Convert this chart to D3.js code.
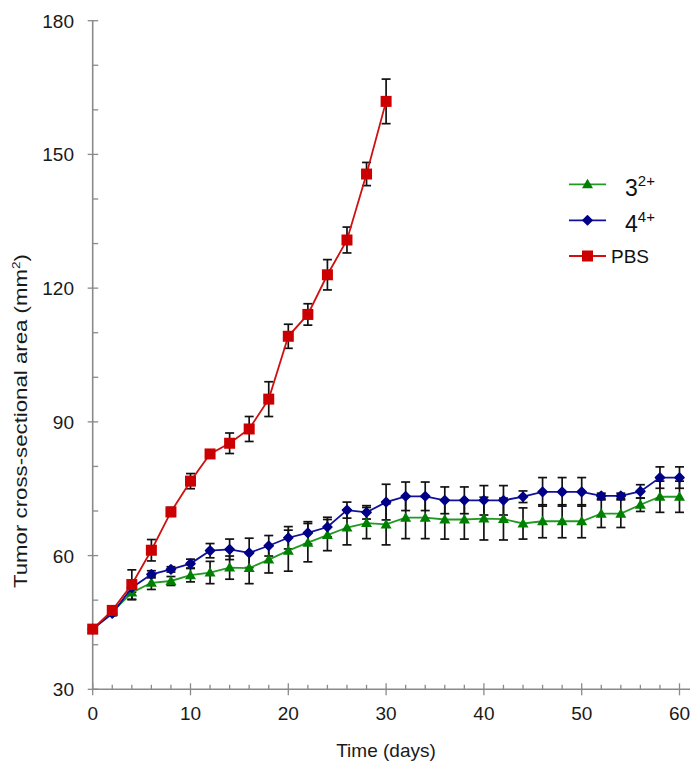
<!DOCTYPE html>
<html><head><meta charset="utf-8">
<script src="https://cdn.jsdelivr.net/npm/d3@7"></script>
<style>
html,body{margin:0;padding:0;background:#fff;}
svg{display:block;font-family:"Liberation Sans",Arial,sans-serif;}
</style></head>
<body>
<svg id="c" width="693" height="765"></svg>
<script>
const days = d3.range(0, 61, 2);
const pbsDays = d3.range(0, 31, 2);
const pbs    = [43.5,47.7,53.5,61.2,69.8,76.7,82.8,85.2,88.4,95.1,109.2,114.1,123.0,130.8,145.6,161.9];
const pbsErr = [0.8,0.9,3.3,2.4,1.0,1.7,0.8,2.3,2.8,3.9,2.7,2.4,3.4,2.9,2.6,5.0];
const comp4    = [43.5,47.0,52.8,55.8,56.9,58.2,61.1,61.4,60.6,62.2,64.0,65.1,66.4,70.2,69.7,72.0,73.3,73.3,72.4,72.4,72.4,72.4,73.2,74.3,74.3,74.3,73.4,73.4,74.4,77.5,77.5];
const comp4Err = [0.8,0.5,1.0,0.8,0.6,1.0,1.6,2.3,3.3,2.3,2.5,2.5,2.2,1.8,1.5,4.0,3.2,3.2,3.0,3.0,3.3,3.3,1.3,3.2,3.2,3.2,0.6,0.6,1.5,2.4,2.4];
const comp3    = [43.5,47.3,51.7,53.9,54.3,55.6,56.2,57.3,57.2,59.1,61.1,62.9,64.6,66.3,67.3,67.0,68.5,68.5,68.1,68.1,68.3,68.2,67.2,67.7,67.7,67.7,69.4,69.4,71.4,73.2,73.2];
const comp3Err = [0.8,0.6,1.6,1.5,1.0,1.5,2.5,2.6,3.5,3.0,4.6,4.3,3.5,3.9,3.5,4.6,4.7,4.7,4.4,4.4,4.8,4.7,3.5,3.7,3.7,3.7,3.1,3.1,1.5,3.5,3.5];
const xTicks = [0,10,20,30,40,50,60];
const yTicks = [30,60,90,120,150,180];

const svg = d3.select("#c");
const x = d3.scaleLinear().domain([0,60]).range([92.7,679.5]);
const y = d3.scaleLinear().domain([30,180]).range([689.3,20.7]);
const axisCol = "#8a8a8a";

// axes
const g = svg.append("g");
g.append("line").attr("x1",x(0)).attr("x2",690).attr("y1",y(30)).attr("y2",y(30)).attr("stroke",axisCol).attr("stroke-width",1.6);
g.append("line").attr("x1",x(0)).attr("x2",x(0)).attr("y1",y(30)).attr("y2",y(180)).attr("stroke",axisCol).attr("stroke-width",1.6);
d3.range(0,61,2).forEach(v=>{
  const major = v%10===0;
  g.append("line").attr("x1",x(v)).attr("x2",x(v))
    .attr("y1", major? y(30)-6 : y(30)-4.5).attr("y2", major? y(30)+6 : y(30))
    .attr("stroke",axisCol).attr("stroke-width",1.3);
});
d3.range(30,181,10).forEach(v=>{
  const major = v%30===0;
  g.append("line").attr("y1",y(v)).attr("y2",y(v))
    .attr("x1", major? x(0)-5 : x(0)).attr("x2", x(0)+5.5)
    .attr("stroke",axisCol).attr("stroke-width",1.3);
});
g.selectAll(".xl").data(xTicks).enter().append("text")
  .attr("x",d=>x(d)).attr("y",720).attr("text-anchor","middle")
  .attr("font-size",19).attr("fill","#1a1a1a").text(d=>d);
g.selectAll(".yl").data(yTicks).enter().append("text")
  .attr("x",74).attr("y",d=>y(d)+7).attr("text-anchor","end")
  .attr("font-size",19).attr("fill","#1a1a1a").text(d=>d);

svg.append("text").attr("x",386).attr("y",757).attr("text-anchor","middle")
  .attr("font-size",19).attr("fill","#1a1a1a").text("Time (days)");
const yt = svg.append("text").attr("transform","translate(27,421) rotate(-90)")
  .attr("text-anchor","middle").attr("font-size",18).attr("fill","#1a1a1a")
  .attr("textLength",334).attr("lengthAdjust","spacingAndGlyphs");
yt.append("tspan").text("Tumor cross-sectional area (mm");
yt.append("tspan").attr("font-size",11).attr("dy",-7).text("2");
yt.append("tspan").attr("dy",7).text(")");

const series = [
  {xs:days, ys:comp3, es:comp3Err, line:"#229922", fill:"#008000", shape:"tri"},
  {xs:days, ys:comp4, es:comp4Err, line:"#10109a", fill:"#000088", shape:"dia"},
  {xs:pbsDays, ys:pbs, es:pbsErr, line:"#d01010", fill:"#cc0000", shape:"sq"}
];
function marker(sel, shape, fill){
  if(shape==="tri") sel.append("path").attr("d","M0,-5.5L5.5,4L-5.5,4Z").attr("fill",fill);
  else if(shape==="dia") sel.append("path").attr("d","M0,-4.5L4.5,0L0,4.5L-4.5,0Z").attr("fill",fill).attr("stroke",fill).attr("stroke-width",1.6).attr("stroke-linejoin","round");
  else sel.append("rect").attr("x",-5.5).attr("y",-5.5).attr("width",11).attr("height",11).attr("fill",fill);
}
const line = d3.line();
series.forEach(s=>{
  const eg = svg.append("g").attr("stroke","#111").attr("stroke-width",1.7);
  s.xs.forEach((d,i)=>{
    const cx=x(d), t=y(s.ys[i]+s.es[i]), b=y(s.ys[i]-s.es[i]);
    eg.append("line").attr("x1",cx).attr("x2",cx).attr("y1",t).attr("y2",b);
    eg.append("line").attr("x1",cx-4.5).attr("x2",cx+4.5).attr("y1",t).attr("y2",t);
    eg.append("line").attr("x1",cx-4.5).attr("x2",cx+4.5).attr("y1",b).attr("y2",b);
  });
});
series.forEach(s=>{
  svg.append("path").attr("d",line(s.xs.map((d,i)=>[x(d),y(s.ys[i])])))
    .attr("fill","none").attr("stroke",s.line).attr("stroke-width",1.8);
  s.xs.forEach((d,i)=>{
    const mg = svg.append("g").attr("transform",`translate(${x(d)},${y(s.ys[i])})`);
    marker(mg, s.shape, s.fill);
  });
});

// legend
const leg = [
  {y:184.3, s:series[0], base:"3", sup:"2+", big:true},
  {y:220.3, s:series[1], base:"4", sup:"4+", big:true},
  {y:256, s:series[2], base:"PBS", sup:"", big:false}
];
leg.forEach(l=>{
  svg.append("line").attr("x1",569).attr("x2",606).attr("y1",l.y).attr("y2",l.y)
    .attr("stroke",l.s.line).attr("stroke-width",1.8);
  marker(svg.append("g").attr("transform",`translate(587.5,${l.y})`), l.s.shape, l.s.fill);
  if(l.big){
    const t = svg.append("text").attr("x",625).attr("y",l.y+12).attr("font-size",23).attr("fill","#111");
    t.append("tspan").text(l.base);
    t.append("tspan").attr("font-size",15).attr("dy",-10).text(l.sup);
  } else {
    svg.append("text").attr("x",611).attr("y",l.y+7).attr("font-size",19).attr("fill","#111").text(l.base);
  }
});
</script>
</body></html>
